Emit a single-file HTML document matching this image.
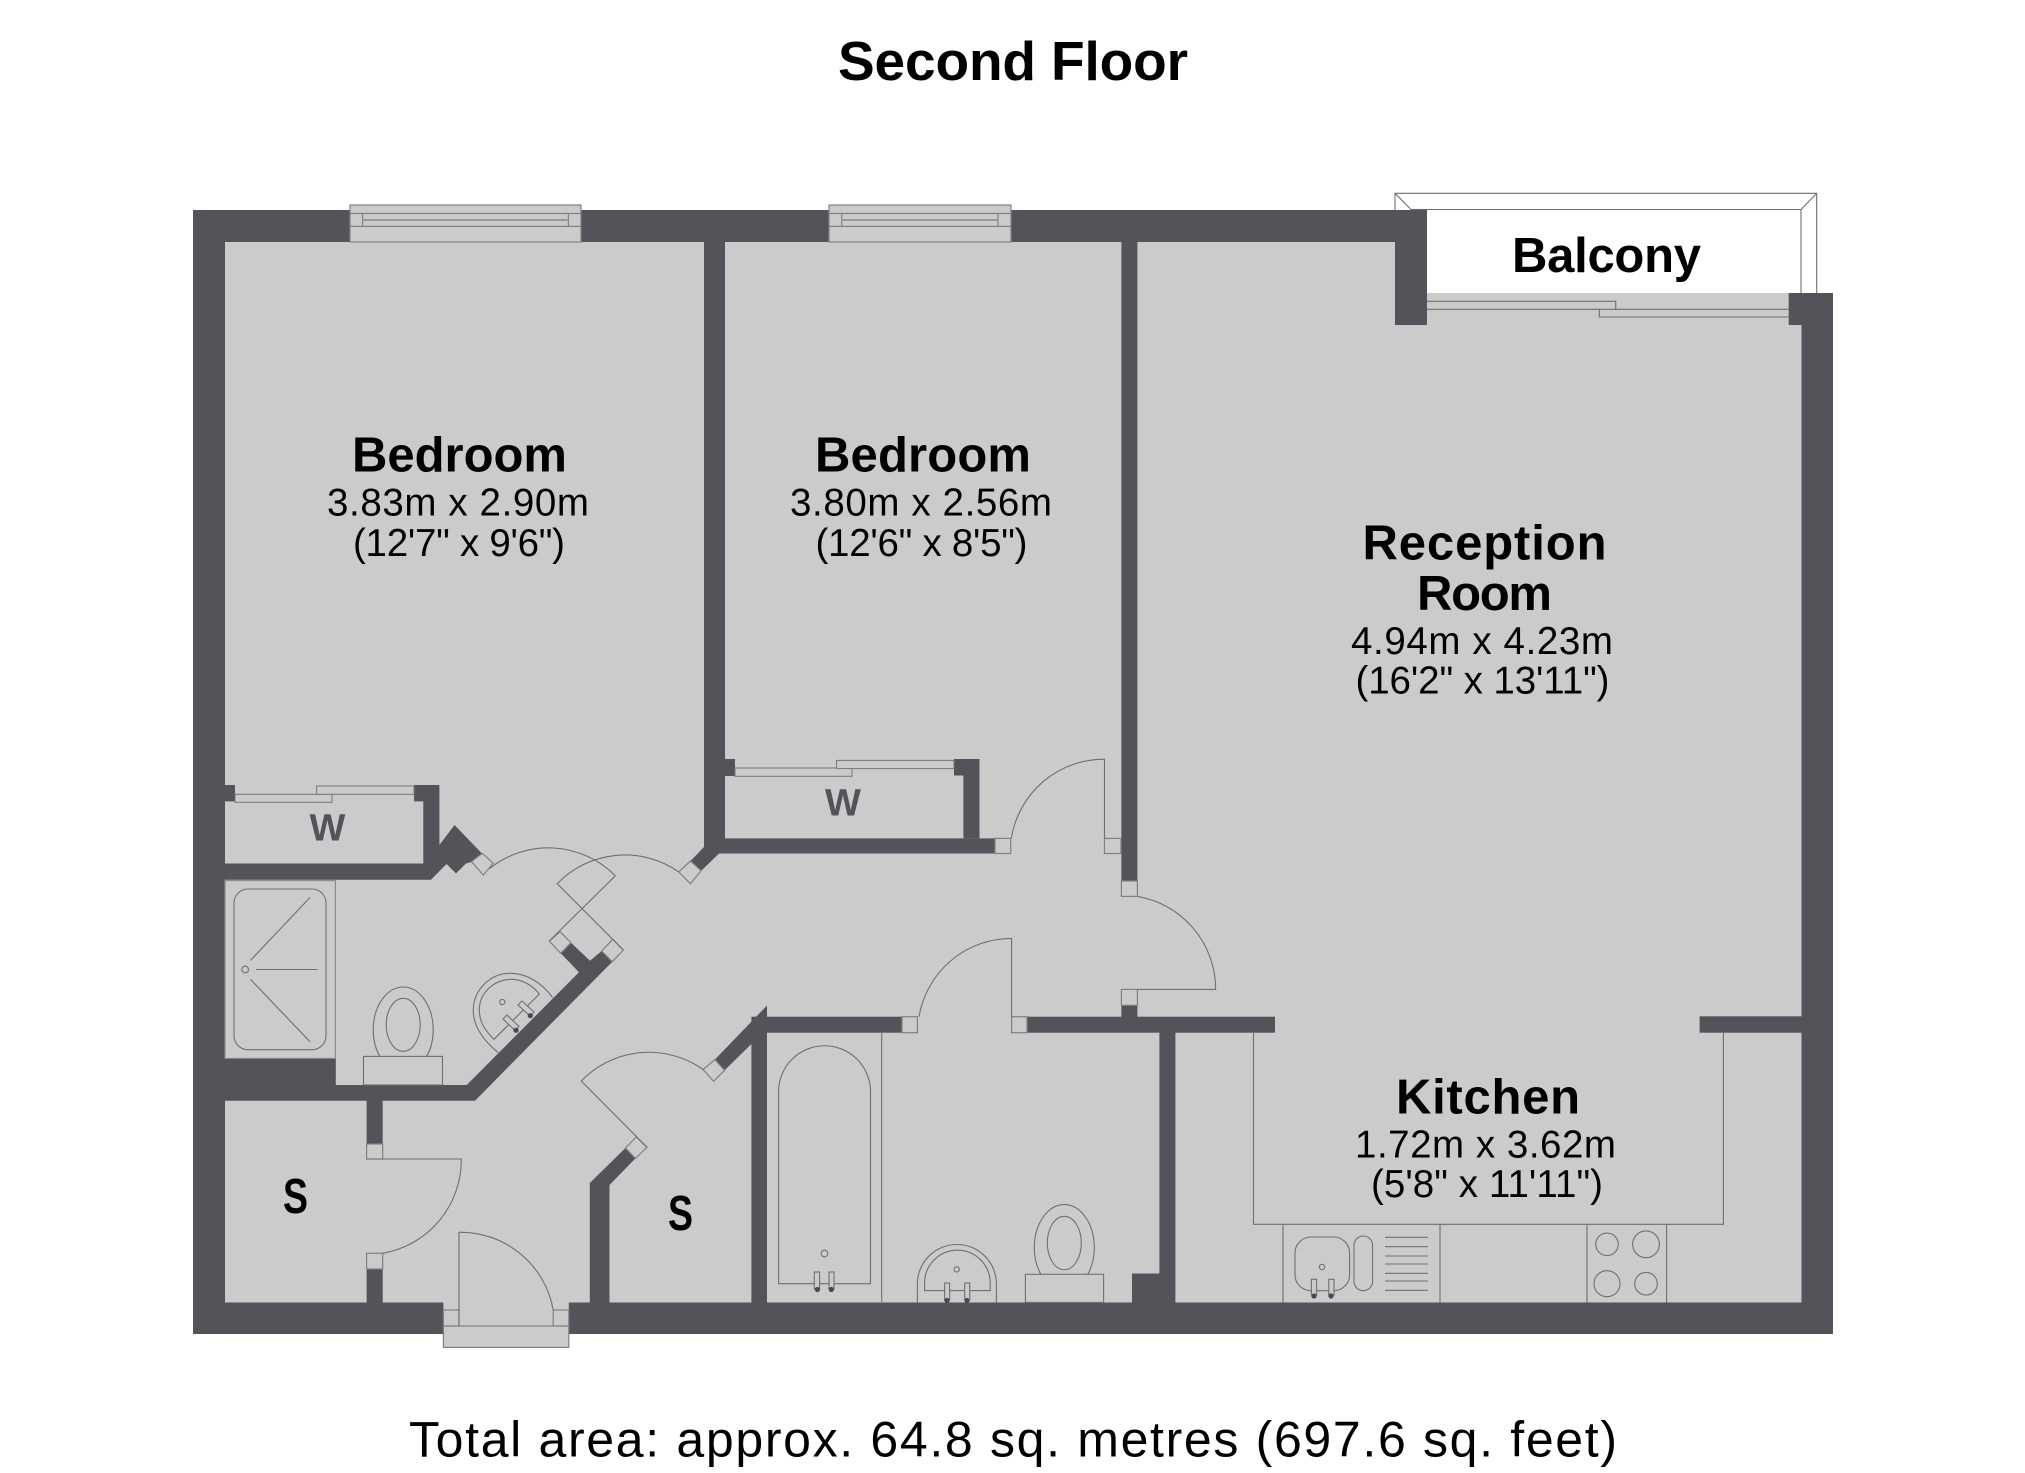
<!DOCTYPE html>
<html><head><meta charset="utf-8"><title>Second Floor</title>
<style>
html,body{margin:0;padding:0;background:#fff;width:2025px;height:1473px;overflow:hidden}
svg{display:block}
text{font-family:"Liberation Sans",sans-serif;fill:#000}
.b{font-weight:700}
.w{fill:#545359;stroke:none}
.f{fill:#cbcbcb;stroke:#808080;stroke-width:1.2}
.l{fill:none;stroke:#6f6f6f;stroke-width:1.1}
.d{fill:#4a4a4e;stroke:none}
.t{fill:#cbcbcb;stroke:#777;stroke-width:1}
</style></head><body>
<svg xmlns="http://www.w3.org/2000/svg" width="2025" height="1473" viewBox="0 0 2025 1473">
<rect width="2025" height="1473" fill="#fff"/>
<!-- floor -->
<polygon points="193,210 1427,210 1427,293 1833,293 1833,1334 193,1334" fill="#cbcbcb"/>
<!-- balcony -->
<g class="l" stroke-width="1.4">
<polyline points="1395,210 1395,193.3 1816.7,193.3 1816.7,293"/>
<polyline points="1411,209.5 1801,209.5 1801,293"/>
<line x1="1395" y1="193.3" x2="1411" y2="209.5"/>
<line x1="1816.7" y1="193.3" x2="1801" y2="209.5"/>
<line x1="1411" y1="209.5" x2="1427" y2="209.5"/>
</g>
<!-- shell walls -->
<g class="w">
<rect x="193" y="210" width="32" height="1124"/>
<rect x="193" y="210" width="1234" height="32"/>
<rect x="1395" y="210" width="32" height="115"/>
<rect x="1788.7" y="293" width="44.3" height="32"/>
<rect x="1801.5" y="293" width="31.5" height="1041"/>
<rect x="193" y="1302.5" width="1640" height="31.5"/>
<!-- bed1/bed2 wall -->
<polygon points="704,242 725,242 725,838.4 995,838.4 995,853.5 719,853.5 701,871 690.5,861 704,847"/>
<!-- bed2/reception wall -->
<rect x="1121.4" y="242" width="16" height="639"/>
<!-- wardrobe bed2 -->
<rect x="725" y="759" width="10" height="17"/>
<polygon points="954,759 979.5,759 979.5,838.4 963.4,838.4 963.4,775.5 954,775.5"/>
<!-- wardrobe bed1 and chimney -->
<rect x="225" y="785" width="10" height="16.4"/>
<polygon points="414,785 439.4,785 439.4,845 454.5,825 482,853.5 471.5,862 466,863.5 456,873.4 446.5,864 431,879.8 225,879.8 225,863.5 423.3,863.5 423.3,801.4 414,801.4"/>
<!-- bathroom 1 -->
<polygon points="225,1058.4 335.8,1058.4 335.8,1085 466.7,1085 579,972.3 560.7,953.3 571,942.7 590,960.7 601.7,951 612.3,961.7 475,1100.7 225,1100.7"/>
<!-- store left stubs -->
<rect x="366.6" y="1100" width="16.1" height="44"/>
<rect x="366.6" y="1269" width="16.1" height="34"/>
<!-- store right wall -->
<polygon points="589.8,1183 625.5,1148 635.4,1158.4 609.5,1185 609.5,1303 589.8,1303"/>
<polygon points="714.8,1059.6 767,1005.5 767,1303 751.4,1303 751.4,1044 724.6,1070.3"/>
<!-- bath wall horizontal -->
<rect x="751.4" y="1016.7" width="150.6" height="16"/>
<rect x="1027" y="1016.7" width="248" height="16"/>
<rect x="1121.4" y="1005.3" width="16" height="12"/>
<rect x="1159.4" y="1032" width="16" height="271"/>
<rect x="1132" y="1273.5" width="28" height="30"/>
<rect x="1699.6" y="1016.3" width="102" height="16.4"/>
</g>
<!-- entrance gap -->
<rect x="443.4" y="1302" width="125.4" height="24" fill="#cbcbcb"/>
<rect class="f" x="443.4" y="1326" width="125.4" height="21.4"/>
<rect class="f" x="443.4" y="1310" width="15.6" height="16"/>
<rect class="f" x="553.2" y="1310" width="15.6" height="16"/>
<!-- windows -->
<g class="f">
<rect x="350" y="205" width="231" height="37"/>
<line x1="350" y1="213.5" x2="581" y2="213.5"/><line x1="350" y1="226.4" x2="581" y2="226.4"/>
<line x1="362.6" y1="213.5" x2="362.6" y2="226.4"/><line x1="568.4" y1="213.5" x2="568.4" y2="226.4"/>
<line x1="362.6" y1="220" x2="568.4" y2="220" stroke="#999" stroke-width="2"/>
<rect x="829" y="205" width="182" height="37"/>
<line x1="829" y1="213.5" x2="1011" y2="213.5"/><line x1="829" y1="226.4" x2="1011" y2="226.4"/>
<line x1="841.7" y1="213.5" x2="841.7" y2="226.4"/><line x1="998" y1="213.5" x2="998" y2="226.4"/>
<line x1="841.7" y1="220" x2="998" y2="220" stroke="#999" stroke-width="2"/>
</g>
<!-- sliding door reception -->
<g class="l" stroke="#8a8a8a">
<polyline points="1427,301.3 1615.7,301.3 1615.7,309.3"/>
<line x1="1427" y1="309.3" x2="1788.7" y2="309.3"/>
<polyline points="1599.3,309.3 1599.3,317 1788.7,317"/>
</g>
<!-- wardrobe sliders -->
<g class="t" fill="#cbcbcb">
<rect x="235" y="794.3" width="97" height="8"/>
<rect x="316.6" y="786" width="97.4" height="8.3"/>
<rect x="735" y="768" width="117" height="8.3"/>
<rect x="836.6" y="760.4" width="117.4" height="8.2"/>
</g>
<!-- door frames -->
<g class="f">
<polygon points="471.5,861.7 482.3,853.3 493.3,863.3 483.3,875"/>
<polygon points="678.7,871.9 690.5,861 701,870.7 690.5,883.7"/>
<polygon points="549.3,941 560,931.7 571,942.7 560.7,953.3"/>
<polygon points="601.7,951 612.7,939.3 623.3,950 612.3,961.7"/>
<polygon points="625.5,1148 636.2,1137 647,1147.3 635.4,1158.4"/>
<polygon points="703.2,1069.5 714.8,1059.6 724.6,1070.3 713.5,1081.3"/>
<rect x="366.6" y="1144" width="16.1" height="15"/>
<rect x="366.6" y="1253.3" width="16.1" height="15.7"/>
<rect x="902" y="1016.7" width="15.4" height="16"/>
<rect x="1011.6" y="1016.7" width="15.4" height="16"/>
<rect x="995" y="838.4" width="15.7" height="15.1"/>
<rect x="1104.5" y="838.4" width="16.5" height="15.1"/>
<rect x="1121.4" y="881" width="16" height="15.4"/>
<rect x="1121.4" y="989.4" width="16" height="15.9"/>
</g>
<!-- door leaves and swings -->
<g class="l">
<path d="M549.3 941 L615.3 875.8 M489.4 868.7 A94 94 0 0 1 615.3 875.8"/>
<path d="M623.3 950 L557.2 883.7 A94 94 0 0 1 678.7 871.9"/>
<path d="M647 1147.3 L581.3 1081 A94 94 0 0 1 703.2 1069.5"/>
<path d="M366.6 1159 H461.3 A94.7 94.7 0 0 1 382.7 1253.3"/>
<path d="M459 1326 V1232.3 A94 94 0 0 1 553.2 1310"/>
<path d="M1104.5 838.4 V759.2 A94 94 0 0 0 1011.3 838.4"/>
<path d="M1011.6 1016.7 V938.4 A94 94 0 0 0 919 1016.7"/>
<path d="M1137.4 989.4 H1215.6 A94 94 0 0 0 1137.4 896.4"/>
</g>
<!-- shower -->
<g class="l">
<rect x="225" y="880.6" width="110.4" height="177.8" fill="#cbcbcb" stroke="#8a8a8a"/>
<rect x="234" y="889" width="92" height="160.7" rx="14" ry="14"/>
<circle cx="245.2" cy="969.5" r="3.3"/>
<path d="M250.5 960.4 L310 897.5 M256 969.5 H317.5 M250.5 979.4 L310 1041.8"/>
</g>
<!-- toilet 1 -->
<g class="l">
<path d="M379.7 1056.4 A30 42.8 0 1 1 426.7 1056.4"/>
<ellipse cx="403.2" cy="1024.8" rx="17" ry="26.5"/>
<rect x="363.5" y="1056.4" width="79" height="28.6"/>
</g>
<!-- basin 1 -->
<g class="l">
<path d="M498.3 1052.7 C478 1036 473 1022 473.3 1010 C473.5 990 490 973.3 510 973.3 C527 973.3 542 983 552.7 997.7"/>
<path d="M494 1039.3 C484 1030 479.3 1020 479.3 1010 C479.3 993 494 979.3 511.7 979.3 C522 979.3 532 985 539.3 994 Z"/>
<circle cx="502.3" cy="1002" r="2.6"/>
<polygon points="503,1019 507,1015 519,1026.5 515,1030.5" fill="#cbcbcb"/>
<polygon points="518,1005 522,1001 534,1012 530,1016" fill="#cbcbcb"/>
</g>
<circle class="d" cx="516" cy="1030.3" r="2.6"/><circle class="d" cx="530.3" cy="1015.7" r="2.6"/>
<!-- bath -->
<g class="l">
<line x1="881.7" y1="1032.7" x2="881.7" y2="1302"/>
<path d="M778.6 1283.7 V1089.6 A46 46 0 0 1 870.5 1089.6 V1283.7 Z"/>
<circle cx="824.5" cy="1253.5" r="3.3"/>
<rect x="814.3" y="1272" width="5.3" height="17" fill="#cbcbcb"/>
<rect x="829" y="1272" width="5" height="17" fill="#cbcbcb"/>
</g>
<circle class="d" cx="817.4" cy="1289.5" r="2.6"/><circle class="d" cx="831.3" cy="1289.5" r="2.6"/>
<!-- basin 2 -->
<g class="l">
<path d="M917.4 1302.4 V1284 A39.5 39.5 0 0 1 996.4 1284 V1302.4"/>
<path d="M924.6 1290.6 V1283 A32.8 32.8 0 0 1 990.2 1283 V1290.6 Z"/>
<circle cx="956.7" cy="1269.4" r="2.6"/>
<rect x="944.6" y="1283" width="5" height="17" fill="#cbcbcb"/>
<rect x="964.7" y="1283" width="5" height="17" fill="#cbcbcb"/>
</g>
<circle class="d" cx="947" cy="1300.5" r="2.6"/><circle class="d" cx="967" cy="1300.5" r="2.6"/>
<!-- toilet 2 -->
<g class="l">
<path d="M1040.8 1274.3 A30 43 0 1 1 1087.8 1274.3"/>
<ellipse cx="1064.3" cy="1243" rx="17" ry="26.7"/>
<rect x="1025.4" y="1274.3" width="78.2" height="28.1"/>
</g>
<!-- kitchen -->
<g class="l" stroke="#808080">
<polyline points="1253.5,1032.7 1253.5,1224.3 1723.4,1224.3 1723.4,1032.7"/>
<line x1="1283" y1="1224.3" x2="1283" y2="1302.5"/>
<line x1="1440" y1="1224.3" x2="1440" y2="1302.5"/>
<line x1="1587" y1="1224.3" x2="1587" y2="1302.5"/>
<line x1="1666.6" y1="1224.3" x2="1666.6" y2="1302.5"/>
<rect x="1295" y="1237" width="54.6" height="53.7" rx="16" ry="16"/>
<rect x="1354" y="1236" width="18.6" height="54.7" rx="9.3" ry="9.3"/>
<circle cx="1322" cy="1267" r="2.7"/>
<path d="M1385 1237.3 H1427.7 M1385 1246.7 H1427.7 M1385 1256 H1427.7 M1385 1264 H1427.7 M1385 1273.3 H1427.7 M1385 1281 H1427.7 M1385 1290.3 H1427.7"/>
<rect x="1311.4" y="1279.3" width="5.2" height="15.7" fill="#cbcbcb"/>
<rect x="1328.8" y="1279.3" width="5.2" height="15.7" fill="#cbcbcb"/>
<circle cx="1607" cy="1244.3" r="11.3"/><circle cx="1646" cy="1244.3" r="13.4"/>
<circle cx="1607" cy="1283.7" r="13"/><circle cx="1646" cy="1283.7" r="11.3"/>
</g>
<circle class="d" cx="1314" cy="1296" r="2.6"/><circle class="d" cx="1331" cy="1296" r="2.6"/>
<!-- text -->
<text class="b" x="838" y="80" font-size="55" textLength="350">Second Floor</text>
<text class="b" x="1512" y="272" font-size="49" textLength="189">Balcony</text>
<text class="b" x="352" y="471.5" font-size="49" textLength="215">Bedroom</text>
<text x="327" y="515.7" font-size="38.5" textLength="262">3.83m x 2.90m</text>
<text x="353" y="556" font-size="38.5" textLength="212">(12'7" x 9'6")</text>
<text class="b" x="815" y="471.5" font-size="49" textLength="216">Bedroom</text>
<text x="790" y="515.7" font-size="38.5" textLength="262">3.80m x 2.56m</text>
<text x="815.5" y="556" font-size="38.5" textLength="212">(12'6" x 8'5")</text>
<text class="b" x="1362.5" y="559.5" font-size="49" textLength="244">Reception</text>
<text class="b" x="1417" y="610" font-size="49" textLength="135">Room</text>
<text x="1351" y="654" font-size="38.5" textLength="262">4.94m x 4.23m</text>
<text x="1355.5" y="693.3" font-size="38.5" textLength="254">(16'2" x 13'11")</text>
<text class="b" x="1396" y="1113.5" font-size="49" textLength="184">Kitchen</text>
<text x="1355" y="1157.7" font-size="38.5" textLength="261">1.72m x 3.62m</text>
<text x="1371" y="1197" font-size="38.5" textLength="232">(5'8" x 11'11")</text>
<text class="b" x="283" y="1213" font-size="49" textLength="25" lengthAdjust="spacingAndGlyphs">S</text>
<text class="b" x="668" y="1230" font-size="49" textLength="25" lengthAdjust="spacingAndGlyphs">S</text>
<text x="309.5" y="840.5" font-size="38" textLength="34" style="fill:#545359;font-weight:700">W</text>
<text x="825" y="815.3" font-size="38" textLength="33.5" style="fill:#545359;font-weight:700">W</text>
<text x="409" y="1456.7" font-size="50" textLength="1208">Total area: approx. 64.8 sq. metres (697.6 sq. feet)</text>
</svg>
</body></html>
